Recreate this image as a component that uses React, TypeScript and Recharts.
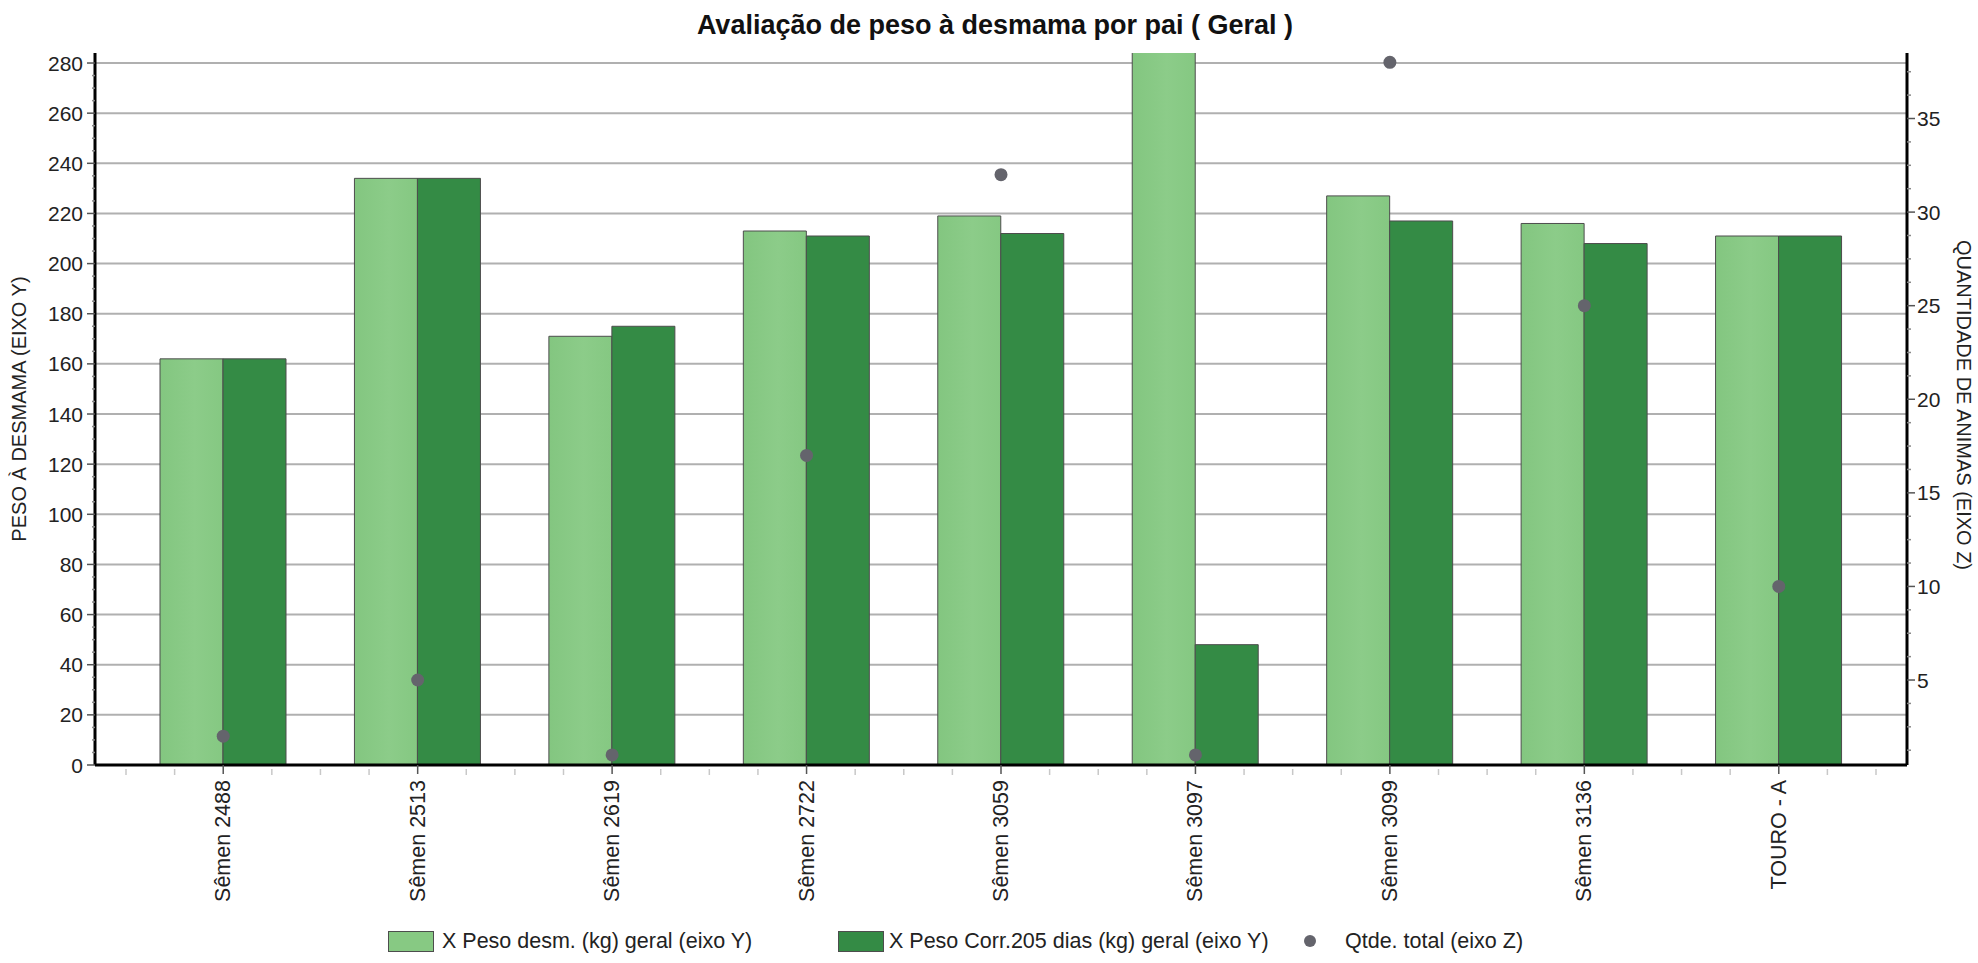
import React from 'react';
import { ComposedChart, Bar, Line, XAxis, YAxis, CartesianGrid } from 'recharts';

// sires on the x axis
const categories = [
  'Sêmen 2488',
  'Sêmen 2513',
  'Sêmen 2619',
  'Sêmen 2722',
  'Sêmen 3059',
  'Sêmen 3097',
  'Sêmen 3099',
  'Sêmen 3136',
  'TOURO - A',
];

// X Peso desm. (kg) geral (eixo Y) -- 3097 runs off the top of the chart
const pesoDesm = [162, 234, 171, 213, 219, 296, 227, 216, 211];
// X Peso Corr.205 dias (kg) geral (eixo Y)
const pesoCorr = [162, 234, 175, 211, 212, 48, 217, 208, 211];
// Qtde. total (eixo Z)
const qtdeTotal = [2, 5, 1, 17, 32, 1, 38, 25, 10];

const yTicks = [0, 20, 40, 60, 80, 100, 120, 140, 160, 180, 200, 220, 240, 260, 280];
const zTicks = [5, 10, 15, 20, 25, 30, 35];

// minor tick marks (4 per major step)
const yMinor = Array.from({ length: 57 }, (_, i) => i * 5);
const zMinor = Array.from({ length: 30 }, (_, i) => (i + 1) * 1.25);

const data = categories.map((name, i) => ({
  name,
  desm: pesoDesm[i],
  corr: pesoCorr[i],
  qtde: qtdeTotal[i],
}));

const W = 1978;
const H = 963;
const LEFT_W = 95;
const RIGHT_W = 71;
const TOP = 53;
const XAXIS_H = 150;
const BOTTOM = 48;
const PAD = 31;
const FONT = '"Liberation Sans", Arial, sans-serif';
const BAND = (W - LEFT_W - RIGHT_W - 2 * PAD) / categories.length;

const XTick = (props: any) => {
  const { x, y, payload, index, visibleTicksCount } = props;
  const half = payload && payload.offset ? payload.offset : BAND / 2;
  const minors = [-half, -half / 2, half / 2];
  if (index === visibleTicksCount - 1) minors.push(half);
  return (
    <g>
      {minors.map((d, i) => (
        <line key={i} x1={x + d} x2={x + d} y1={y + 4} y2={y + 10} stroke="#c8c8c8" strokeWidth={1.5} />
      ))}
      <line x1={x} x2={x} y1={y} y2={y + 9} stroke="#555" strokeWidth={1.5} />
      <text
        x={x}
        y={y + 15}
        transform={`rotate(-90 ${x} ${y + 15})`}
        textAnchor="end"
        dominantBaseline="central"
        fontFamily={FONT}
        fontSize={21.5}
        fill="#222"
      >
        {payload.value}
      </text>
    </g>
  );
};

const LeftTick = (props: any) => {
  const { x, y, payload } = props;
  const major = payload.value % 20 === 0;
  return (
    <g>
      <line x1={x - (major ? 8 : 3)} x2={x} y1={y} y2={y} stroke={major ? '#555' : '#888'} strokeWidth={1.5} />
      {major && (
        <text x={x - 12} y={y} textAnchor="end" dominantBaseline="central" fontFamily={FONT} fontSize={21} fill="#222">
          {payload.value}
        </text>
      )}
    </g>
  );
};

const RightTick = (props: any) => {
  const { x, y, payload } = props;
  const major = payload.value % 5 === 0;
  return (
    <g>
      <line x1={x} x2={x + (major ? 8 : 4)} y1={y} y2={y} stroke={major ? '#555' : '#888'} strokeWidth={1.5} />
      {major && zTicks.includes(payload.value) && (
        <text x={x + 10} y={y} textAnchor="start" dominantBaseline="central" fontFamily={FONT} fontSize={21} fill="#222">
          {payload.value}
        </text>
      )}
    </g>
  );
};

const legendText: React.CSSProperties = {
  position: 'absolute',
  fontFamily: FONT,
  fontSize: 21.5,
  color: '#222',
  lineHeight: '24px',
  whiteSpace: 'nowrap',
};

const App: React.FC = () => {
  return (
    <div style={{ position: 'relative', width: W, height: H, background: '#fff', overflow: 'hidden' }}>
      <style>{'body{margin:0;}'}</style>
      <div
        style={{
          position: 'absolute',
          top: 10,
          left: 495,
          width: 1000,
          textAlign: 'center',
          fontFamily: FONT,
          fontWeight: 'bold',
          fontSize: 27,
          lineHeight: '30px',
          color: '#111',
          whiteSpace: 'nowrap',
        }}
      >
        Avaliação de peso à desmama por pai ( Geral )
      </div>

      <ComposedChart
        width={W}
        height={H}
        data={data}
        margin={{ top: TOP, right: 0, bottom: BOTTOM, left: 0 }}
        barGap={0}
      >
        <defs>
          <linearGradient id="lightBar" x1="0" y1="0" x2="1" y2="0">
            <stop offset="0%" stopColor="#83c680" />
            <stop offset="55%" stopColor="#8ccc89" />
            <stop offset="100%" stopColor="#85c882" />
          </linearGradient>
        </defs>
        <CartesianGrid
          yAxisId="left"
          vertical={false}
          horizontalValues={yTicks}
          stroke="#b0b0b0"
          strokeWidth={2}
        />
        <XAxis
          dataKey="name"
          type="category"
          height={XAXIS_H}
          interval={0}
          padding={{ left: PAD, right: PAD }}
          tickSize={0}
          tickMargin={0}
          tickLine={false}
          axisLine={{ stroke: '#000', strokeWidth: 3 }}
          tick={(p: any) => <XTick {...p} />}
        />
        <YAxis
          yAxisId="left"
          orientation="left"
          width={LEFT_W}
          domain={[0, 284]}
          allowDataOverflow
          ticks={yMinor}
          interval={0}
          tickSize={0}
          tickMargin={0}
          tickLine={false}
          axisLine={{ stroke: '#000', strokeWidth: 3 }}
          tick={(p: any) => <LeftTick {...p} />}
        />
        <YAxis
          yAxisId="right"
          orientation="right"
          width={RIGHT_W}
          domain={[0.46, 38.5]}
          allowDataOverflow
          ticks={zMinor}
          interval={0}
          tickSize={0}
          tickMargin={0}
          tickLine={false}
          axisLine={{ stroke: '#000', strokeWidth: 3 }}
          tick={(p: any) => <RightTick {...p} />}
        />
        <Bar
          yAxisId="left"
          dataKey="desm"
          barSize={63}
          fill="url(#lightBar)"
          stroke="#4d4d4d"
          strokeWidth={1}
          isAnimationActive={false}
        />
        <Bar
          yAxisId="left"
          dataKey="corr"
          barSize={63}
          fill="#348b45"
          stroke="#4d4d4d"
          strokeWidth={1}
          isAnimationActive={false}
        />
        <Line
          yAxisId="right"
          dataKey="qtde"
          stroke="none"
          dot={{ r: 6.5, fill: '#64646c', stroke: 'none' }}
          activeDot={false}
          isAnimationActive={false}
        />
      </ComposedChart>

      {/* axis titles */}
      <div
        style={{
          position: 'absolute',
          left: 19,
          top: 409,
          transform: 'translate(-50%, -50%) rotate(-90deg)',
          fontFamily: FONT,
          fontSize: 20,
          color: '#222',
          whiteSpace: 'nowrap',
        }}
      >
        PESO À DESMAMA (EIXO Y)
      </div>
      <div
        style={{
          position: 'absolute',
          left: 1963,
          top: 405,
          transform: 'translate(-50%, -50%) rotate(90deg)',
          fontFamily: FONT,
          fontSize: 20,
          color: '#222',
          whiteSpace: 'nowrap',
        }}
      >
        QUANTIDADE DE ANIMAS (EIXO Z)
      </div>

      {/* legend */}
      <div style={{ position: 'absolute', left: 388, top: 931, width: 46, height: 21, background: '#87c983', border: '1px solid #4d4d4d', boxSizing: 'border-box' }} />
      <div style={{ ...legendText, left: 442, top: 929 }}>X Peso desm. (kg) geral (eixo Y)</div>
      <div style={{ position: 'absolute', left: 838, top: 931, width: 46, height: 21, background: '#348b45', border: '1px solid #4d4d4d', boxSizing: 'border-box' }} />
      <div style={{ ...legendText, left: 889, top: 929 }}>X Peso Corr.205 dias (kg) geral (eixo Y)</div>
      <div style={{ position: 'absolute', left: 1304, top: 935, width: 12, height: 12, borderRadius: 6, background: '#64646c' }} />
      <div style={{ ...legendText, left: 1345, top: 929 }}>Qtde. total (eixo Z)</div>
    </div>
  );
};

export default App;
